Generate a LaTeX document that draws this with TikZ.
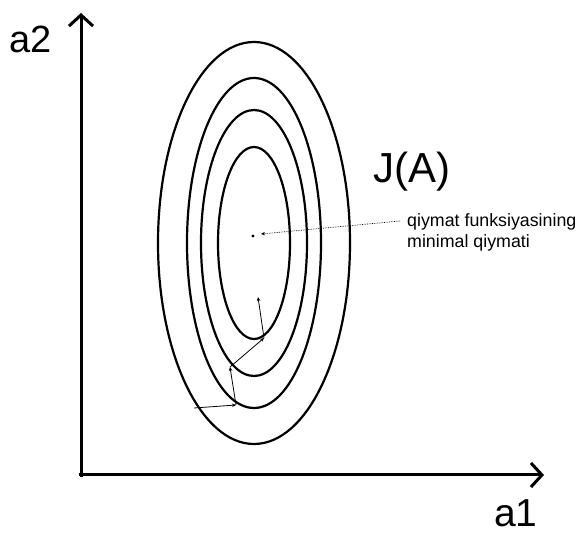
\documentclass[tikz,border=0pt]{standalone}
\usepackage{fontspec}
\setmainfont{Liberation Sans}
\usetikzlibrary{arrows.meta}
\begin{document}
\begin{tikzpicture}[x=1pt,y=-1pt,
  axis/.style={line width=3pt,-{Straight Barb[length=11pt,width=24pt,line width=3pt]}},
  contour/.style={line width=2.2pt},
  gstep/.style={line width=0.8pt,-{Stealth[length=4pt,width=3.5pt]}},
  pointer/.style={line width=0.7pt,densely dotted,-{Stealth[length=4pt,width=3.5pt]}},
  lbl/.style={inner sep=0pt,anchor=base west}]
\useasboundingbox (0,0) rectangle (582,534);
% axes
\coordinate (o) at (81,475);
\coordinate (ytip) at (81,13);
\coordinate (xtip) at (544,475);
\draw[axis] (81,477) -- (ytip);
\draw[axis] (79,475) -- (xtip);
\node[lbl] (a2) at (9,53) {\fontsize{38}{40}\selectfont a2};
\node[lbl,text depth=0pt] (a1) at (494,527) {\fontsize{39}{42}\selectfont a1};
% contours
\coordinate (c) at (254,243);
\draw[contour] (c) ellipse [x radius=96, y radius=201];
\draw[contour] (c) ellipse [x radius=67, y radius=165];
\draw[contour] (c) ellipse [x radius=53, y radius=133];
\draw[contour] (c) ellipse [x radius=36, y radius=96];
% gradient steps
\coordinate (p0) at (194,408);
\coordinate (p1) at (236,405);
\coordinate (p2) at (230,367);
\coordinate (p3) at (264,338);
\coordinate (p4) at (258,297);
\draw[gstep] (p0) -- (p1);
\draw[gstep] (p1) -- (p2);
\draw[gstep] (p2) -- (p3);
\draw[gstep] (p3) -- (p4);
% minimum
\fill (253,236) circle (1.6);
\coordinate (mtip) at (261,234);
\node[lbl] (JA) at (373,183) {\fontsize{42}{44}\selectfont J(A)};
\node[lbl] (t1) at (407,227) {\fontsize{17.8}{20}\selectfont qiymat funksiyasining};
\node[lbl] (t2) at (407,248) {\fontsize{17.8}{20}\selectfont minimal qiymati};
\coordinate (pstart) at (400,221);
\draw[pointer] (pstart) -- (mtip);
\end{tikzpicture}
\end{document}
